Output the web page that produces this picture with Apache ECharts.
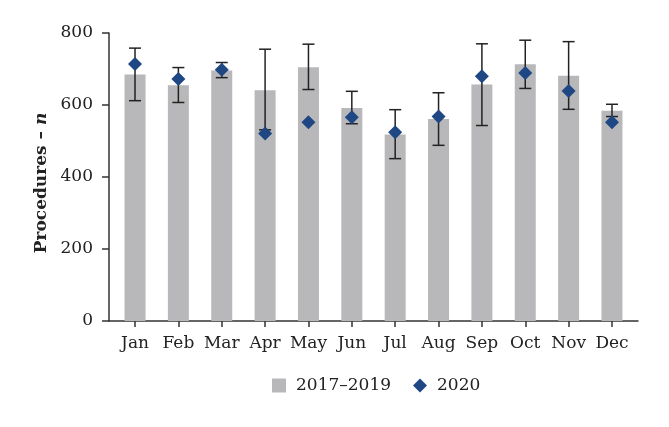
<!DOCTYPE html>
<html><head><meta charset="utf-8">
<script src="https://cdn.jsdelivr.net/npm/echarts@6/dist/echarts.min.js"></script>
<style>html,body{margin:0;padding:0;background:#fff}#c{width:669px;height:427px}</style>
</head><body><div id="c"></div>
<script>
var months = ['Jan','Feb','Mar','Apr','May','Jun','Jul','Aug','Sep','Oct','Nov','Dec'];
var mean1719 = [685, 655, 696, 641, 705, 592, 518, 561, 657, 713, 681, 584];
var errLow   = [612, 607, 676, 531, 643, 548, 451, 488, 543, 646, 588, 568];
var errHigh  = [758, 704, 718, 755, 769, 638, 587, 634, 770, 780, 776, 602];
var v2020    = [714, 672, 698, 521, 552, 566, 524, 568, 680, 689, 639, 552];
var yTicks = [0, 200, 400, 600, 800];

var FONT = 'DejaVu Serif';
var chart = echarts.init(document.getElementById('c'));
var idx = months.map(function(_, i){ return i; });
chart.setOption({
  animation: false,
  textStyle: { fontFamily: FONT, color: '#222' },
  grid: { left: 109, right: 31, top: 33, bottom: 106 },
  legend: {
    top: 372, left: 267, itemGap: 22, itemWidth: 14, itemHeight: 14,
    textStyle: { fontFamily: FONT, fontSize: 17, color: '#222', padding: [0, 0, 0, 5] },
    data: [{ name: '2017–2019', icon: 'rect' }, { name: '2020', icon: 'diamond' }]
  },
  graphic: [{
    type: 'text', x: 42, y: 183, rotation: Math.PI / 2,
    style: {
      text: '{a|Procedures – }{b|n}', align: 'center', verticalAlign: 'middle',
      rich: {
        a: { fontFamily: FONT, fontSize: 17, fontWeight: 'bold', fill: '#222' },
        b: { fontFamily: FONT, fontSize: 17, fontWeight: 'bold', fontStyle: 'italic', fill: '#222' }
      }
    }
  }],
  xAxis: {
    type: 'value', min: -0.6, max: 11.6,
    splitLine: { show: false },
    axisLine: { show: true, onZero: false, lineStyle: { color: '#333', width: 1.5 } },
    axisTick: { show: true, length: 6, customValues: idx, lineStyle: { color: '#333', width: 1.5 } },
    axisLabel: { customValues: idx, fontFamily: FONT, fontSize: 17, color: '#222', margin: 14,
      formatter: function(v){ return months[Math.round(v)]; } }
  },
  yAxis: {
    type: 'value', min: 0, max: 800, interval: 200,
    splitLine: { show: false },
    axisLine: { show: true, onZero: false, lineStyle: { color: '#333', width: 1.5 } },
    axisTick: { show: true, length: 7, lineStyle: { color: '#333', width: 1.5 } },
    axisLabel: { fontFamily: FONT, fontSize: 17, color: '#222', margin: 16 }
  },
  series: [
    { name: '2017–2019', type: 'bar', barWidth: 21,
      itemStyle: { color: '#b8b8ba' },
      data: mean1719.map(function(v, i){ return [i, v]; }) },
    { name: 'err', type: 'custom', z: 3,
      data: idx.map(function(i){ return [i, errLow[i], errHigh[i]]; }),
      renderItem: function(params, api){
        var lo = api.coord([api.value(0), api.value(1)]);
        var hi = api.coord([api.value(0), api.value(2)]);
        var hw = 6;
        var st = { stroke: '#222', lineWidth: 1.5 };
        return { type: 'group', children: [
          { type: 'line', shape: { x1: lo[0], y1: lo[1], x2: hi[0], y2: hi[1] }, style: st },
          { type: 'line', shape: { x1: lo[0]-hw, y1: lo[1], x2: lo[0]+hw, y2: lo[1] }, style: st },
          { type: 'line', shape: { x1: hi[0]-hw, y1: hi[1], x2: hi[0]+hw, y2: hi[1] }, style: st }
        ] };
      } },
    { name: '2020', type: 'scatter', symbol: 'diamond', symbolSize: 14, z: 5,
      itemStyle: { color: '#1f4784', opacity: 1 },
      data: v2020.map(function(v, i){ return [i, v]; }) }
  ]
});
</script></body></html>
